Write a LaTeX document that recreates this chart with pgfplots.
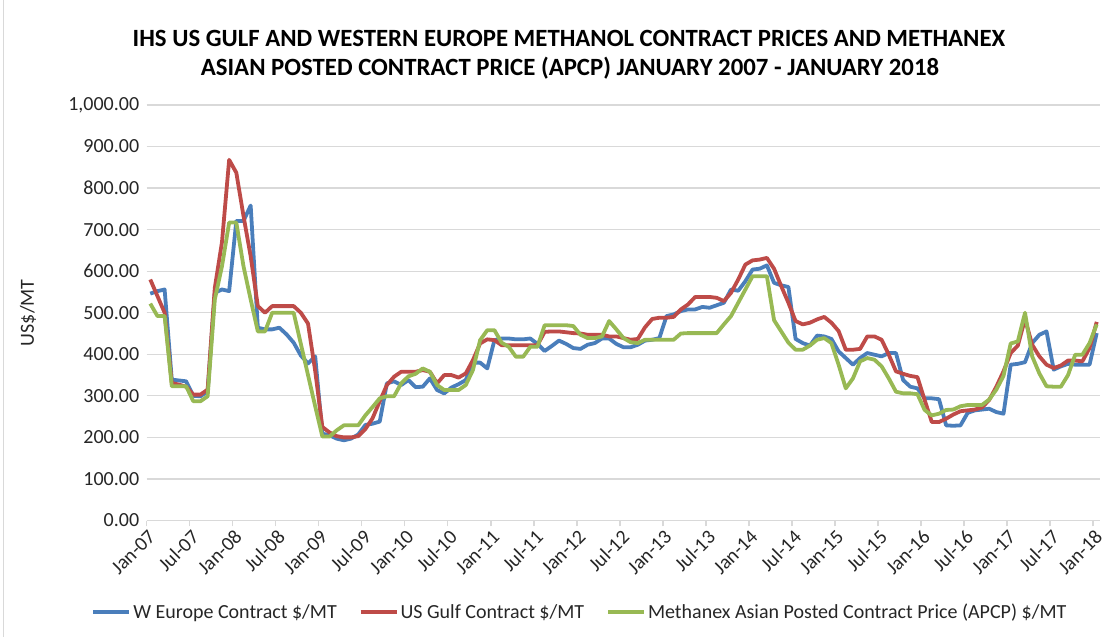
\documentclass[border=0pt]{standalone}
\usepackage{fontspec}
\setmainfont{Carlito}
\usepackage{pgfplots}
\usepackage{pgfplotstable}
\pgfplotsset{compat=1.18}
\definecolor{cblue}{HTML}{4A7EBB}
\definecolor{cred}{HTML}{BE4B48}
\definecolor{cgreen}{HTML}{98B954}
\definecolor{gridc}{HTML}{D9D9D9}

\pgfplotstableread{
i we us ap
0 546 580 522
1 552 540 492
2 556 500 492
3 339 331 323
4 337 327 323
5 335 322 323
6 300 303 287
7 299 303 287
8 311 315 299
9 548 560 532
10 556 670 612
11 552 868 717
12 721 837 717
13 721 733 612
14 758 636 532
15 464 516 455
16 460 500 455
17 460 516 500
18 464 516 500
19 448 516 500
20 428 516 500
21 397 500 425
22 378 474 350
23 395 360 275
24 209 225 202
25 205 212 202
26 197 203 217
27 193 200 229
28 197 200 229
29 207 203 229
30 230 220 253
31 233 246 273
32 238 287 294
33 330 326 299
34 335 346 299
35 326 358 330
36 338 358 347
37 321 358 353
38 322 362 366
39 342 358 358
40 314 330 326
41 306 350 314
42 320 350 314
43 328 344 314
44 338 354 326
45 380 386 362
46 380 426 434
47 366 436 458
48 434 434 458
49 438 422 428
50 438 422 418
51 436 422 394
52 436 422 394
53 438 422 418
54 425 422 418
55 408 454 470
56 420 455 470
57 433 455 470
58 425 453 470
59 415 451 468
60 413 450 447
61 423 447 439
62 427 447 439
63 438 447 443
64 438 443 480
65 425 443 460
66 417 439 439
67 417 435 429
68 423 437 427
69 433 465 435
70 435 485 435
71 439 488 435
72 492 488 435
73 496 490 435
74 504 508 450
75 508 520 451
76 508 538 451
77 514 538 451
78 512 538 451
79 518 536 451
80 524 528 472
81 556 548 492
82 553 580 524
83 576 616 556
84 604 626 588
85 606 628 588
86 614 632 588
87 572 606 482
88 566 564 455
89 562 524 428
90 437 480 411
91 427 472 411
92 421 476 421
93 445 484 435
94 443 490 439
95 437 476 427
96 407 456 375
97 391 411 318
98 375 411 342
99 391 413 383
100 403 443 391
101 399 443 387
102 395 435 371
103 403 399 342
104 403 359 310
105 338 353 306
106 322 348 306
107 318 345 304
108 294 290 266
109 294 237 253
110 292 237 257
111 229 245 266
112 228 255 267
113 229 263 275
114 259 265 278
115 265 267 278
116 267 272 278
117 269 290 291
118 261 322 315
119 257 359 348
120 375 403 426
121 377 421 431
122 381 485 500
123 427 423 395
124 447 395 354
125 455 375 323
126 363 367 322
127 371 373 322
128 377 385 350
129 375 385 399
130 375 383 399
131 375 415 427
132 451 478 472
}\data

\begin{document}
\begin{tikzpicture}[x=1pt,y=1pt]
\useasboundingbox (-146.7,-116.5) rectangle (970.3,520.5);
\draw[gridc, line width=1pt] (-143.5,-116.5) -- (-143.5,520.5);
\begin{axis}[
  at={(0pt,0pt)}, anchor=south west,
  scale only axis, width=953.6pt, height=415.5pt,
  xmin=-0.5, xmax=132.5, ymin=0, ymax=1000,
  axis x line*=bottom, axis y line*=left,
  y axis line style={draw=none},
  x axis line style={gridc, line width=1.3pt},
  ymajorgrids, grid style={gridc, line width=1.3pt},
  ytick={0,100,...,1000},
  ytick style={draw=none},
  yticklabel style={font=\fontsize{20}{22}\selectfont, text=black!85, xshift=-4pt,
    /pgf/number format/fixed, /pgf/number format/fixed zerofill,
    /pgf/number format/precision=2, /pgf/number format/1000 sep={,},
    /pgf/number format/assume math mode=true},
  xtick={-0.5,5.5,...,131.5},
  xticklabels={Jan-07,Jul-07,Jan-08,Jul-08,Jan-09,Jul-09,Jan-10,Jul-10,Jan-11,Jul-11,Jan-12,Jul-12,Jan-13,Jul-13,Jan-14,Jul-14,Jan-15,Jul-15,Jan-16,Jul-16,Jan-17,Jul-17,Jan-18},
  xticklabel style={rotate=45, anchor=north east, font=\fontsize{20}{22}\selectfont, text=black!85, inner sep=1pt, yshift=-1pt},
  xtick align=outside, major tick length=6pt,
  xtick style={gridc, line width=1.3pt},
  ylabel={US\$/MT},
  ylabel style={at={(axis description cs:-0.1245,0.5)}, anchor=center, font=\fontsize{20}{22}\selectfont, text=black!85},
  legend style={at={(0.4543,-0.2202)}, anchor=center, draw=none, fill=none,
    legend columns=3, font=\fontsize{20}{22}\selectfont, text=black!85,
    /tikz/every even column/.append style={column sep=20pt}},
  legend image code/.code={\draw[#1] (0pt,0pt) -- (36pt,0pt);},
  every axis plot/.append style={line width=3.8pt, line join=round},
  clip=false,
]
\addplot[cblue, mark=none] table[x=i, y=we] {\data};
\addplot[cred, mark=none] table[x=i, y=us] {\data};
\addplot[cgreen, mark=none] table[x=i, y=ap] {\data};
\legend{W Europe Contract \$/MT, US Gulf Contract \$/MT, Methanex Asian Posted Contract Price (APCP) \$/MT}
\end{axis}
\node[font=\fontsize{24.8}{28}\bfseries, text=black] at (422.3,482.5) {IHS US GULF AND WESTERN EUROPE METHANOL CONTRACT PRICES AND METHANEX};
\node[font=\fontsize{24.8}{28}\bfseries, text=black] at (423.3,452.5) {ASIAN POSTED CONTRACT PRICE (APCP) JANUARY 2007 - JANUARY 2018};
\end{tikzpicture}
\end{document}
